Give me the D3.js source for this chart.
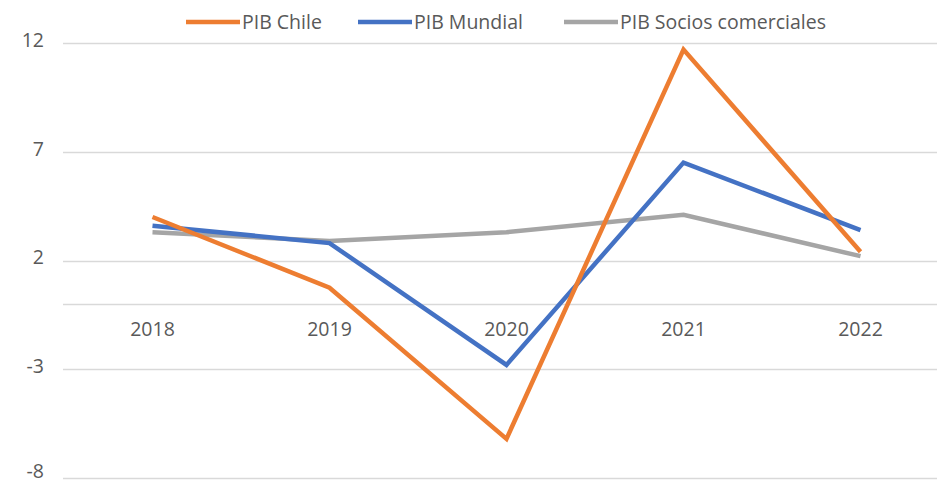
<!DOCTYPE html>
<head>
  <meta charset="utf-8">
  <script src="https://d3js.org/d3.v7.min.js"></script>
  <style type="text/css">
    body { margin: 0; background: #fff; }
    text { font-family: "Open Sans", sans-serif; fill: #595959; }
    .grid line { stroke: #d9d9d9; stroke-width: 1.3; }
    .serie { fill: none; stroke-width: 4.5; stroke-linejoin: miter; }
  </style>
</head>

<body>
  <script type="text/javascript">
    var years = ["2018", "2019", "2020", "2021", "2022"];
    var yTicks = [12, 7, 2, -3, -8];

    var pibChile = [4.0, 0.75, -6.2, 11.7, 2.4];
    var pibMundial = [3.6, 2.8, -2.8, 6.5, 3.4];
    var pibSocios = [3.3, 2.9, 3.3, 4.1, 2.2];

    var seriesNames = ["PIB Chile", "PIB Mundial", "PIB Socios comerciales"];
    var colors = ["#ed7d31", "#4472c4", "#a5a5a5"];

    var width = 937, height = 484;
    var fontSize = "19.5px";

    var svg = d3.select("body").append("svg")
      .attr("width", width)
      .attr("height", height);

    var xScale = d3.scaleBand().domain(years).range([64, 949]);
    var yScale = d3.scaleLinear().domain([-8, 12]).range([478, 43]);
    function xc(d) { return xScale(d) + xScale.bandwidth() / 2; }

    // horizontal grid at tick values
    var grid = svg.append("g").attr("class", "grid");
    grid.selectAll("line")
      .data(yTicks.concat([0]))
      .enter().append("line")
      .attr("x1", 63).attr("x2", width)
      .attr("y1", function(d) { return Math.round(yScale(d)) + 0.5; })
      .attr("y2", function(d) { return Math.round(yScale(d)) + 0.5; });

    // y axis labels (plain hyphen for negatives, like excel)
    var yAxis = d3.axisLeft(yScale).tickValues(yTicks).tickSize(0).tickPadding(0)
      .tickFormat(function(d) { return String(d); });
    svg.append("g")
      .attr("transform", "translate(44,-3)")
      .call(yAxis)
      .call(function(g) {
        g.select(".domain").remove();
        g.selectAll("text").attr("fill", "#595959").style("font-size", fontSize)
          .style("font-family", "\"Open Sans\", sans-serif");
        // bottom label sits at the page edge, lift it so it stays inside
        g.selectAll(".tick").filter(function(d) { return d === -8; })
          .select("text").attr("y", -4);
      });

    // x axis labels below the zero line
    var xAxis = d3.axisBottom(xScale).tickSize(0).tickPadding(0);
    svg.append("g")
      .attr("transform", "translate(0," + (yScale(0) + 18) + ")")
      .call(xAxis)
      .call(function(g) {
        g.select(".domain").remove();
        g.selectAll("text").attr("fill", "#595959").style("font-size", fontSize)
          .style("font-family", "\"Open Sans\", sans-serif");
      });

    var data = [pibChile, pibMundial, pibSocios];
    var line = d3.line()
      .x(function(d, i) { return xc(years[i]); })
      .y(function(d) { return yScale(d); });

    // gray drawn first, orange on top
    svg.selectAll(".serie")
      .data([2, 1, 0])
      .enter().append("path")
      .attr("class", "serie")
      .attr("stroke", function(k) { return colors[k]; })
      .attr("d", function(k) { return line(data[k]); });

    // legend
    var legendX = [186, 358, 564];
    var legend = svg.append("g");
    var items = legend.selectAll("g")
      .data(seriesNames)
      .enter().append("g")
      .attr("transform", function(d, i) { return "translate(" + legendX[i] + ",22)"; });
    items.append("line")
      .attr("x1", 0).attr("x2", 54)
      .attr("stroke", function(d, i) { return colors[i]; })
      .attr("stroke-width", 4.5);
    items.append("text")
      .attr("x", 56)
      .attr("dy", "0.35em")
      .style("font-size", fontSize)
      .text(function(d) { return d; });
  </script>
</body>
